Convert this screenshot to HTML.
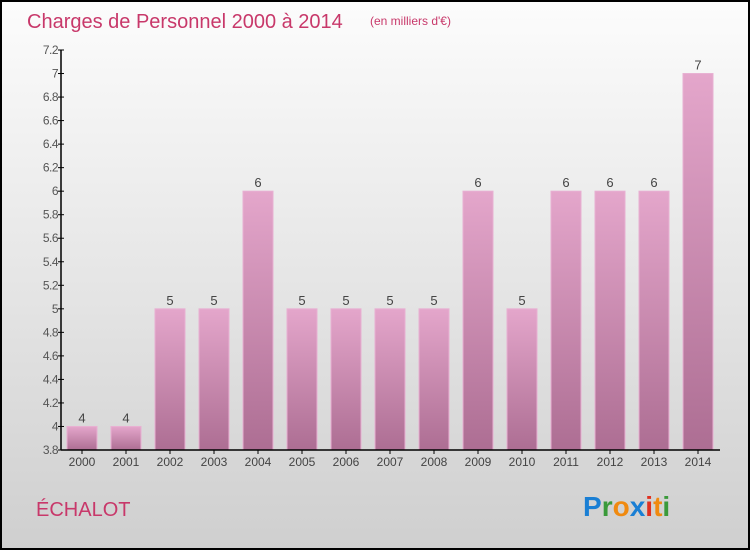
<!DOCTYPE html>
<html><head><meta charset="utf-8">
<style>
html,body{margin:0;padding:0}
body{width:750px;height:550px;overflow:hidden;font-family:"Liberation Sans",sans-serif}
#wrap{position:absolute;left:0;top:0;width:746px;height:546px;border:2px solid #000;background:linear-gradient(#fcfcfc,#e6e6e6 50%,#cfcfcf)}
</style></head><body>
<div id="wrap"></div>
<svg id="chart" width="750" height="550" style="position:absolute;left:0;top:0">
<defs>
<linearGradient id="bg" x1="0" y1="0" x2="0" y2="1">
<stop offset="0" stop-color="#e4a6cb"/><stop offset="1" stop-color="#ad6e93"/>
</linearGradient>
</defs>
<text x="27" y="28" font-size="20" fill="#c8386a">Charges de Personnel 2000 à 2014</text>
<text x="370" y="25" font-size="12" fill="#c8386a">(en milliers d'€)</text>
<text x="36" y="516" font-size="20" fill="#c8386a">ÉCHALOT</text>
<g font-size="28" font-weight="bold" font-family="'Liberation Sans',sans-serif">
<text x="583" y="516"><tspan fill="#1a7fd4">P</tspan><tspan fill="#3a9a3a">r</tspan><tspan fill="#f08a10">o</tspan><tspan fill="#1a7fd4">x</tspan><tspan fill="#e03020">i</tspan><tspan fill="#f08a10">t</tspan><tspan fill="#3a9a3a">i</tspan></text>
</g>
<g id="plot"></g>
</svg>
<script>
const categories=["2000","2001","2002","2003","2004","2005","2006","2007","2008","2009","2010","2011","2012","2013","2014"];
const values=[4,4,5,5,6,5,5,5,5,6,5,6,6,6,7];
const yTicks=[3.8,4,4.2,4.4,4.6,4.8,5,5.2,5.4,5.6,5.8,6,6.2,6.4,6.6,6.8,7,7.2];
const yMin=3.8,yMax=7.2,plotTop=50,plotBottom=450,plotLeft=61,plotRight=720;
const ns="http://www.w3.org/2000/svg";
const g=document.getElementById('plot');
function yS(v){return plotBottom-(v-yMin)/(yMax-yMin)*(plotBottom-plotTop);}
function xS(i){return 67+i*44;}
function mk(t,a,txt){const e=document.createElementNS(ns,t);for(const k in a)e.setAttribute(k,a[k]);if(txt!==undefined)e.textContent=txt;g.appendChild(e);return e;}
values.forEach((v,i)=>{
 const r=mk('rect',{x:xS(i),y:yS(v),width:30,height:plotBottom-yS(v),fill:'url(#bg)',stroke:'#e8b0d2','stroke-width':1});
 
 
 const t=mk('text',{x:xS(i)+15,y:yS(v)-4,'text-anchor':'middle','font-size':13,fill:'#444'},String(v));
 
 
 const c=mk('text',{x:xS(i)+15,y:466,'text-anchor':'middle','font-size':12,fill:'#444'},categories[i]);
 
 
 mk('line',{x1:xS(i)+15,x2:xS(i)+15,y1:plotBottom,y2:plotBottom+4,stroke:'#000'});
});
yTicks.forEach(v=>{
 mk('line',{x1:plotLeft-3,x2:plotLeft+3,y1:yS(v),y2:yS(v),stroke:'#000'});
 const t=mk('text',{x:plotLeft-3,y:yS(v)+4,'text-anchor':'end','font-size':12,fill:'#555','letter-spacing':'-0.5'},String(v));
 
 
});
const ya=mk('line',{x1:plotLeft,x2:plotLeft,y1:plotTop,y2:plotBottom,stroke:'#000','stroke-width':1.5});


const xa=mk('line',{x1:plotLeft,x2:plotRight,y1:plotBottom,y2:plotBottom,stroke:'#000','stroke-width':1.5});


</script>
</body></html>
